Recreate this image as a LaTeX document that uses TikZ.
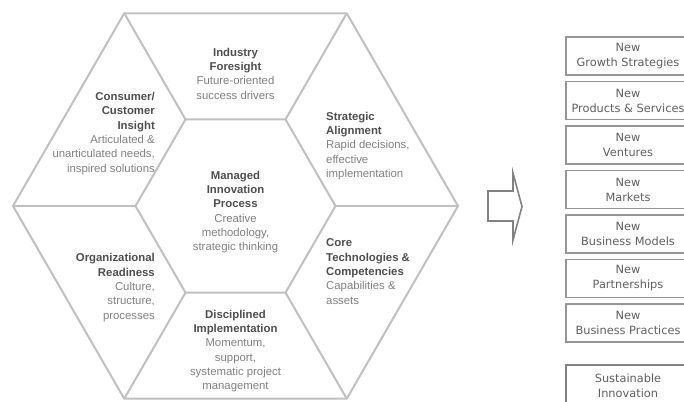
\documentclass[tikz,border=0pt]{standalone}
\usepackage{fontspec}
\setmainfont{Liberation Sans}
\newfontfamily\boxfont{DejaVu Sans}
\definecolor{hexline}{RGB}{192,192,192}
\definecolor{titlec}{RGB}{78,78,78}
\definecolor{descc}{RGB}{128,128,128}
\definecolor{boxline}{RGB}{150,150,150}
\definecolor{boxtext}{RGB}{95,95,95}
\definecolor{arrowc}{RGB}{130,130,130}
\newcommand\ttl[1]{\textcolor{titlec}{\bfseries #1}}
\newcommand\dsc[1]{\textcolor{descc}{#1}}
\begin{document}
\begin{tikzpicture}[x=1bp,y=-1bp,
  hexedge/.style={draw=hexline,line width=2bp,line join=miter},
  celltext/.style={inner sep=0pt,font=\fontsize{11.4}{14.4}\selectfont},
  outbox/.style={draw=boxline,line width=1.1bp,minimum width=124bp,minimum height=38bp,inner sep=0pt,
     align=center,text=boxtext,font=\boxfont\fontsize{11.4}{15}\selectfont},
  finalbox/.style={outbox,draw=arrowc,line width=2bp,minimum height=42bp}]
\useasboundingbox (0,0) rectangle (684,401);
% outer hexagon vertices
\coordinate (oL) at (13,206);
\coordinate (oTL) at (124.25,13.3);
\coordinate (oTR) at (346.75,13.3);
\coordinate (oR) at (458,206);
\coordinate (oBR) at (346.75,398.7);
\coordinate (oBL) at (124.25,398.7);
% inner hexagon vertices
\coordinate (iL) at (135.5,206);
\coordinate (iTL) at (185.5,119.4);
\coordinate (iTR) at (285.5,119.4);
\coordinate (iR) at (335.5,206);
\coordinate (iBR) at (285.5,292.6);
\coordinate (iBL) at (185.5,292.6);
\draw[hexedge] (oL) -- (oTL) -- (oTR) -- (oR) -- (oBR) -- (oBL) -- cycle;
\draw[hexedge] (iL) -- (iTL) -- (iTR) -- (iR) -- (iBR) -- (iBL) -- cycle;
\draw[hexedge] (oL) -- (iL);
\draw[hexedge] (oTL) -- (iTL);
\draw[hexedge] (oTR) -- (iTR);
\draw[hexedge] (oR) -- (iR);
\draw[hexedge] (oBR) -- (iBR);
\draw[hexedge] (oBL) -- (iBL);
% cell texts
\node[celltext,align=center] (foresight) at (235.5,73.5)
  {\ttl{Industry}\\\ttl{Foresight}\\\dsc{Future-oriented}\\\dsc{success drivers}};
\node[celltext,align=right,anchor=east] (consumer) at (155,133.5)
  {\ttl{Consumer/}\\\ttl{Customer}\\\ttl{Insight}\\\dsc{Articulated \&}\\\dsc{unarticulated needs,}\\\dsc{inspired solutions}};
\node[celltext,align=left,anchor=west] (strategic) at (326,146)
  {\ttl{Strategic}\\\ttl{Alignment}\\\dsc{Rapid decisions,}\\\dsc{effective}\\\dsc{implementation}};
\node[celltext,align=center] (managed) at (235.5,212)
  {\ttl{Managed}\\\ttl{Innovation}\\\ttl{Process}\\\dsc{Creative}\\\dsc{methodology,}\\\dsc{strategic thinking}};
\node[celltext,align=left,anchor=west] (core) at (326,271.5)
  {\ttl{Core}\\\ttl{Technologies \&}\\\ttl{Competencies}\\\dsc{Capabilities \&}\\\dsc{assets}};
\node[celltext,align=right,anchor=east] (readiness) at (155,287.5)
  {\ttl{Organizational}\\\ttl{Readiness}\\\dsc{Culture,}\\\dsc{structure,}\\\dsc{processes}};
\node[celltext,align=center] (disciplined) at (235.5,351)
  {\ttl{Disciplined}\\\ttl{Implementation}\\\dsc{Momentum,}\\\dsc{support,}\\\dsc{systematic project}\\\dsc{management}};
% arrow
\draw[draw=arrowc,line width=1.6bp,line join=miter]
  (488,191) -- (513,191) -- (513,173) -- (522,206.5) -- (513,240) -- (513,221) -- (488,221) -- cycle;
% result boxes
\node[outbox] (growth) at (628,56) {New\\Growth Strategies};
\node[outbox] (products) at (628,100.5) {New\\Products \& Services};
\node[outbox] (ventures) at (628,145) {New\\Ventures};
\node[outbox] (markets) at (628,189.5) {New\\Markets};
\node[outbox] (models) at (628,234) {New\\Business Models};
\node[outbox] (partners) at (628,278.5) {New\\Partnerships};
\node[outbox] (practices) at (628,323) {New\\Business Practices};
\node[finalbox] (sustain) at (628,386) {Sustainable\\Innovation};
\end{tikzpicture}
\end{document}
